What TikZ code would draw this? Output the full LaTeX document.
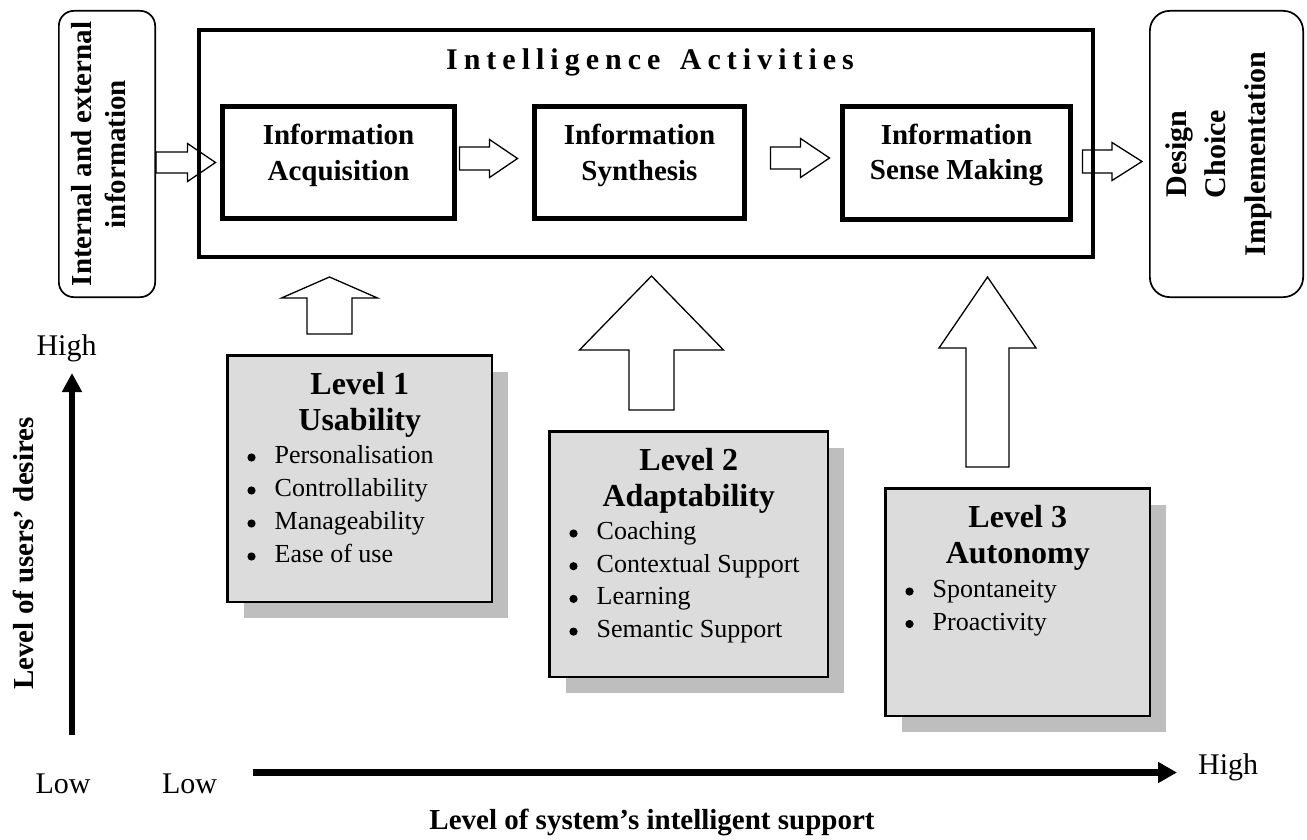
\documentclass[tikz,border=0pt]{standalone}
\usepackage{fontspec}
\setmainfont{Liberation Serif}
\usetikzlibrary{arrows.meta,calc,shadows,backgrounds}
\definecolor{boxfill}{HTML}{DCDCDC}
\definecolor{shadec}{HTML}{BEBEBE}
\def\spaceout#1{\spaceoutA#1\relax}
\def\spaceoutA#1{\ifx#1\relax\else#1\kern6pt\expandafter\spaceoutA\fi}
\newcommand\bdot[1]{\fill[black] ($(#1.base west)+(-23,-6)$) circle (4.1pt);}
\newcommand\blockH[5]{%
  \draw[barrow] let \p1=(#1), \p2=(#2) in
    (\x1,\y1+#3) -- (\x2-#5,\y1+#3) -- (\x2-#5,\y1+#4) -- (\x2,\y1) --
    (\x2-#5,\y1-#4) -- (\x2-#5,\y1-#3) -- (\x1,\y1-#3) -- cycle;}
\newcommand\blockV[5]{%
  \draw[barrow] let \p1=(#1), \p2=(#2) in
    (\x1-#3,\y1) -- (\x1-#3,\y2-#5) -- (\x1-#4,\y2-#5) -- (\x1,\y2) --
    (\x1+#4,\y2-#5) -- (\x1+#3,\y2-#5) -- (\x1+#3,\y1) -- cycle;}
\begin{document}
\begin{tikzpicture}[x=1pt,y=-1pt,
  ibox/.style={draw,line width=5pt,inner sep=0,minimum height=112pt},
  obox/.style={draw,line width=4pt,inner sep=0},
  rbox/.style={draw,line width=1.7pt,inner sep=0},
  lvl/.style={draw,line width=2.5pt,fill=boxfill,inner sep=0,anchor=north west,
    drop shadow={shadow xshift=16pt,shadow yshift=-16pt,fill=shadec,opacity=1}},
  barrow/.style={draw,line width=1.3pt,fill=white,line join=miter},
  axis/.style={line width=6.5pt,-{Triangle[width=19pt,length=19pt]}},
  inbf/.style={font=\bfseries\fontsize{29pt}{35pt}\selectfont,inner sep=0,anchor=base},
  head/.style={font=\bfseries\fontsize{32pt}{37pt}\selectfont,inner sep=0,anchor=base},
  item/.style={font=\fontsize{26pt}{33pt}\selectfont,inner sep=0,anchor=base west},
  lab/.style={font=\fontsize{30pt}{36pt}\selectfont,inner sep=0,anchor=base},
  axlab/.style={font=\bfseries\fontsize{29pt}{35pt}\selectfont,inner sep=0,anchor=base},
]
\useasboundingbox (0,0) rectangle (1307,840);

% side boxes
\node[rbox,rounded corners=15pt,minimum width=96.3pt,minimum height=286.3pt] (in) at (107,154) {};
\node[font=\bfseries\fontsize{29pt}{34pt}\selectfont,inner sep=0,align=center,rotate=90] (intext) at (99,154) {Internal and external\\information};
\node[rbox,rounded corners=20pt,minimum width=153.3pt,minimum height=286.3pt] (design) at (1226.5,154) {};
\node[font=\bfseries\fontsize{30pt}{39.5pt}\selectfont,inner sep=0,align=center,rotate=90] (dtext) at (1218.5,154) {Design\\Choice\\Implementation};

% intelligence activities
\node[obox,minimum width=894pt,minimum height=227pt] (ia) at (646,143.5) {};
\node[font=\bfseries\fontsize{30pt}{36pt}\selectfont,inner sep=0,anchor=base] (iatitle) at (653,70) {\spaceout{Intelligence}\kern13.5pt\spaceout{Activities}};

\node[ibox,minimum width=232pt] (acq) at (338.5,162.5) {};
\node[inbf] (acq1) at (338.5,145) {Information};
\node[inbf] (acq2) at (338.5,180) {Acquisition};
\node[ibox,minimum width=210pt] (syn) at (639.5,162.5) {};
\node[inbf] (syn1) at (639.5,145) {Information};
\node[inbf] (syn2) at (639.5,180) {Synthesis};
\node[ibox,minimum width=228pt] (sense) at (956.5,163) {};
\node[inbf] (sense1) at (956.5,145) {Information};
\node[inbf] (sense2) at (956.5,179.5) {Sense Making};

% block arrows (behind boxes)
\begin{pgfonlayer}{background}
\fill[white] (0,0) rectangle (1307,840);
\blockH{in.east |- acq.west}{[xshift=-4.5pt]acq.west}{10.5pt}{19pt}{28pt}
\blockH{[xshift=2.5pt,yshift=4pt]acq.east}{[xshift=-14.5pt,yshift=4pt]syn.west}{11.5pt}{19pt}{28pt}
\blockH{[xshift=23.5pt,yshift=4.5pt]syn.east}{[xshift=-10.5pt]sense.west}{11pt}{19.5pt}{29pt}
\blockH{[xshift=9.5pt,yshift=1.5pt]sense.east}{[xshift=-7pt]design.west}{11.5pt}{19pt}{30pt}
\end{pgfonlayer}

% up arrows
\coordinate (u1b) at (329.5,334); \coordinate (u1t) at (329.5,277);
\blockV{u1b}{u1t}{22.5pt}{48pt}{21pt}
\coordinate (u2b) at (651.5,410); \coordinate (u2t) at (651.5,276);
\blockV{u2b}{u2t}{22.5pt}{72pt}{74pt}
\coordinate (u3b) at (987.5,467); \coordinate (u3t) at (987.5,277);
\blockV{u3b}{u3t}{21.5pt}{48.5pt}{71pt}

% level boxes
\node[lvl,minimum width=264.5pt,minimum height=246.5pt] (L1) at (226.25,354.25) {};
\node[head] (L1a) at ($(L1.north)+(0,39.75)$) {Level 1};
\node[head] (L1b) at ($(L1.north)+(0,76.25)$) {Usability};
\node[item] (L1c) at ($(L1.north west)+(48.25,109.25)$) {Personalisation};
\node[item] (L1d) at ($(L1.north west)+(48.25,142.25)$) {Controllability};
\node[item] (L1e) at ($(L1.north west)+(48.25,175.25)$) {Manageability};
\node[item] (L1f) at ($(L1.north west)+(48.25,208.25)$) {Ease of use};
\bdot{L1c}\bdot{L1d}\bdot{L1e}\bdot{L1f}

\node[lvl,minimum width=278.5pt,minimum height=245.5pt] (L2) at (548.25,430.25) {};
\node[head] (L2a) at ($(L2.north)+(0,39.75)$) {Level 2};
\node[head] (L2b) at ($(L2.north)+(0,76.25)$) {Adaptability};
\node[item] (L2c) at ($(L2.north west)+(48.25,109.25)$) {Coaching};
\node[item] (L2d) at ($(L2.north west)+(48.25,141.95)$) {Contextual Support};
\node[item] (L2e) at ($(L2.north west)+(48.25,174.65)$) {Learning};
\node[item] (L2f) at ($(L2.north west)+(48.25,207.35)$) {Semantic Support};
\bdot{L2c}\bdot{L2d}\bdot{L2e}\bdot{L2f}

\node[lvl,minimum width=264.5pt,minimum height=227.5pt] (L3) at (884.25,487.25) {};
\node[head] (L3a) at ($(L3.north)+(0,39.75)$) {Level 3};
\node[head] (L3b) at ($(L3.north)+(0,76.25)$) {Autonomy};
\node[item] (L3c) at ($(L3.north west)+(48.25,110.25)$) {Spontaneity};
\node[item] (L3d) at ($(L3.north west)+(48.25,142.75)$) {Proactivity};
\bdot{L3c}\bdot{L3d}

% axes
\coordinate (yS) at (72,735); \coordinate (yE) at (72,373);
\draw[axis] (yS) -- (yE);
\coordinate (xS) at (253,772.5); \coordinate (xE) at (1177,772.5);
\draw[axis,-{Triangle[width=20pt,length=19pt]}] (xS) -- (xE);

\node[lab] (yhigh) at (66.5,355) {High};
\node[lab] (ylow) at (63,793) {Low};
\node[lab] (xlow) at (189.5,793) {Low};
\node[lab,anchor=base west] (xhigh) at (1198,774) {High};
\node[axlab] (xlabel) at (652,829) {Level of system’s intelligent support};
\node[axlab,rotate=90] (ylabel) at (33,553.5) {Level of users’ desires};
\end{tikzpicture}
\end{document}
